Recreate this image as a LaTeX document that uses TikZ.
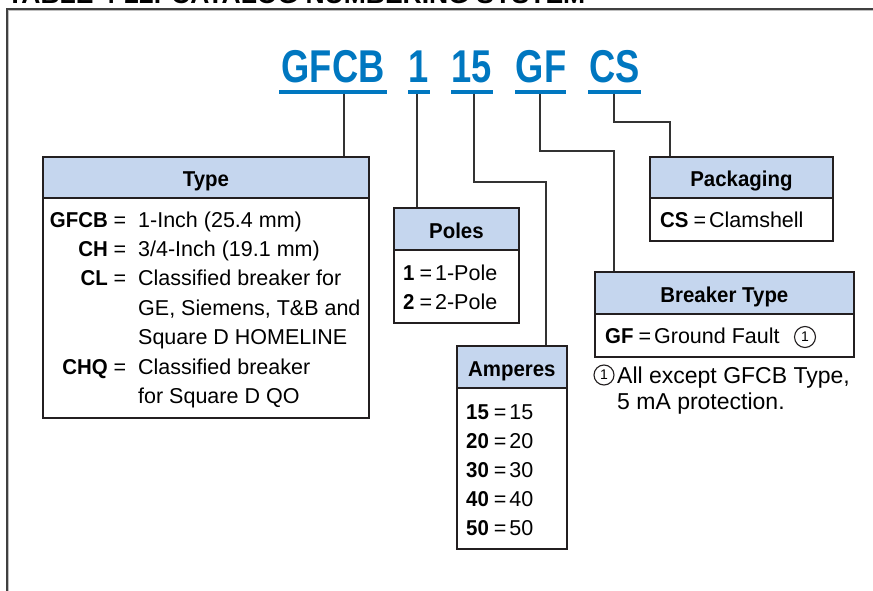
\documentclass[tikz,border=0pt]{standalone}
\usepackage{fontspec}
\setmainfont{Liberation Sans}[BoldFeatures={FakeStretch=0.95}]
\newfontfamily\codefam{Liberation Sans}[FakeStretch=0.79]
\newfontfamily\plainfam{Liberation Sans}
\definecolor{codeblue}{HTML}{0077C0}
\definecolor{headblue}{HTML}{C5D6EE}
\definecolor{boxline}{HTML}{231F20}
\definecolor{linegray}{HTML}{333333}
\definecolor{framegray}{HTML}{404040}
\newcommand{\eqsign}{\hspace{5pt}=\hspace{3pt}}
\begin{document}
\begin{tikzpicture}[x=1pt,y=-1pt,
  conn/.style={draw=linegray, line width=1.4pt},
  uline/.style={draw=codeblue, line width=4pt},
  code/.style={anchor=base, inner sep=0pt, text=codeblue, font=\codefam\bfseries\fontsize{46}{46}\selectfont},
  boxhead/.style={draw=boxline, line width=1.8pt, fill=headblue, anchor=north west, inner sep=0pt, text height=19pt, text depth=0pt, font=\bfseries\fontsize{21.5}{21.5}\selectfont},
  boxbody/.style={draw=boxline, line width=1.8pt, fill=white, anchor=north west, inner sep=0pt},
  txt/.style={anchor=base west, inner sep=0pt, font=\fontsize{21.5}{21.5}\selectfont},
  lbl/.style={anchor=base east, inner sep=0pt, font=\bfseries\fontsize{21.5}{21.5}\selectfont},
  eqs/.style={anchor=base, inner sep=0pt, font=\fontsize{21.5}{21.5}\selectfont},
  note/.style={anchor=base west, inner sep=0pt, font=\plainfam\fontsize{23}{23}\selectfont},
  circ/.style={circle, draw=boxline, line width=1.1pt, inner sep=0pt, minimum size=#1, font=\plainfam\fontsize{14}{14}\selectfont}
]
\useasboundingbox (0,0) rectangle (873,591);
\fill[white] (0,0) rectangle (873,591);

% title (clipped at top) and frame
\node[anchor=base west, inner sep=0pt, font=\plainfam\bfseries\fontsize{26.5}{26.5}\selectfont, text=black] (title) at (7,4) {TABLE 4-22. CATALOG NUMBERING SYSTEM};
\draw[draw=gray!50, line width=1pt] (8,602) -- (8,11) -- (880,11);
\draw[draw=framegray, line width=2pt] (6.5,602) -- (6.5,9) -- (880,9);

% catalog code
\node[code] (cgfcb) at (333,83) {GFCB};
\node[code] (c1) at (419,83) {1};
\node[code] (c15) at (472,83) {15};
\node[code] (cgf) at (541,83) {GF};
\node[code] (ccs) at (614.5,83) {CS};
\draw[uline] (279,92) -- (387,92);
\draw[uline] (408,92) -- (430,92);
\draw[uline] (451,92) -- (493,92);
\draw[uline] (515,92) -- (566,92);
\draw[uline] (588,92) -- (641,92);
\coordinate (ugfcb) at (344,94);
\coordinate (u1) at (417,94);
\coordinate (u15) at (474,94);
\coordinate (ugf) at (540,94);
\coordinate (ucs) at (614,94);
\coordinate (k15) at (546,182);
\coordinate (kgf) at (614,151);
\coordinate (kcs) at (670,122);

% Type box
\node[boxhead, minimum width=326pt, minimum height=41pt] (typeh) at (42,156) {Type};
\node[boxbody, minimum width=326pt, minimum height=220pt] (typeb) at (42,197) {};
\node[lbl] (l1) at (108,227) {GFCB};
\node[eqs] (e1) at (120,227) {=};
\node[txt] (d1) at (138,227) {1-Inch (25.4 mm)};
\node[lbl] (l2) at (108,256) {CH};
\node[eqs] (e2) at (120,256) {=};
\node[txt] (d2) at (138,256) {3/4-Inch (19.1 mm)};
\node[lbl] (l3) at (108,285.5) {CL};
\node[eqs] (e3) at (120,285.5) {=};
\node[txt] (d3) at (138,285.5) {Classified breaker for};
\node[txt] (d4) at (138,315) {GE, Siemens, T\&B and};
\node[txt] (d5) at (138,344.5) {Square D HOMELINE};
\node[lbl] (l6) at (108,374) {CHQ};
\node[eqs] (e6) at (120,374) {=};
\node[txt] (d6) at (138,374) {Classified breaker};
\node[txt] (d7) at (138,403) {for Square D QO};

% Poles box
\node[boxhead, minimum width=125pt, minimum height=42pt] (polesh) at (393,207) {Poles};
\node[boxbody, minimum width=125pt, minimum height=73pt] (polesb) at (393,249) {};
\node[txt] (p1) at (403,280) {\textbf{1}\eqsign 1-Pole};
\node[txt] (p2) at (403,309) {\textbf{2}\eqsign 2-Pole};

% Amperes box
\node[boxhead, minimum width=110pt, minimum height=42pt] (amph) at (456,345) {Amperes};
\node[boxbody, minimum width=110pt, minimum height=161pt] (ampb) at (456,387) {};
\node[txt] (a1) at (466,419) {\textbf{15}\eqsign 15};
\node[txt] (a2) at (466,448) {\textbf{20}\eqsign 20};
\node[txt] (a3) at (466,477) {\textbf{30}\eqsign 30};
\node[txt] (a4) at (466,506) {\textbf{40}\eqsign 40};
\node[txt] (a5) at (466,535) {\textbf{50}\eqsign 50};

% Packaging box
\node[boxhead, minimum width=183pt, minimum height=41pt] (packh) at (649,156) {Packaging};
\node[boxbody, minimum width=183pt, minimum height=43pt] (packb) at (649,197) {};
\node[txt] (k1) at (660,227) {\textbf{CS}\eqsign Clamshell};

% Breaker Type box
\node[boxhead, minimum width=259pt, minimum height=42pt] (breakh) at (594,271) {Breaker Type};
\node[boxbody, minimum width=259pt, minimum height=43pt] (breakb) at (594,313) {};
\node[txt] (b1) at (605,343) {\textbf{GF}\eqsign Ground Fault};
\node[circ=21pt] (bc) at (805,337) {1};

% footnote
\node[circ=20pt] (fc) at (604,375) {1};
\node[note] (n1) at (617,383) {All except GFCB Type,};
\node[note] (n2) at (617,409) {5 mA protection.};

% connectors
\draw[conn] (ugfcb) -- (ugfcb |- typeh.north);
\draw[conn] (u1) -- (u1 |- polesh.north);
\draw[conn] (u15) |- (k15) -- (k15 |- amph.north);
\draw[conn] (ugf) |- (kgf) -- (kgf |- breakh.north);
\draw[conn] (ucs) |- (kcs) -- (kcs |- packh.north);
\end{tikzpicture}
\end{document}
